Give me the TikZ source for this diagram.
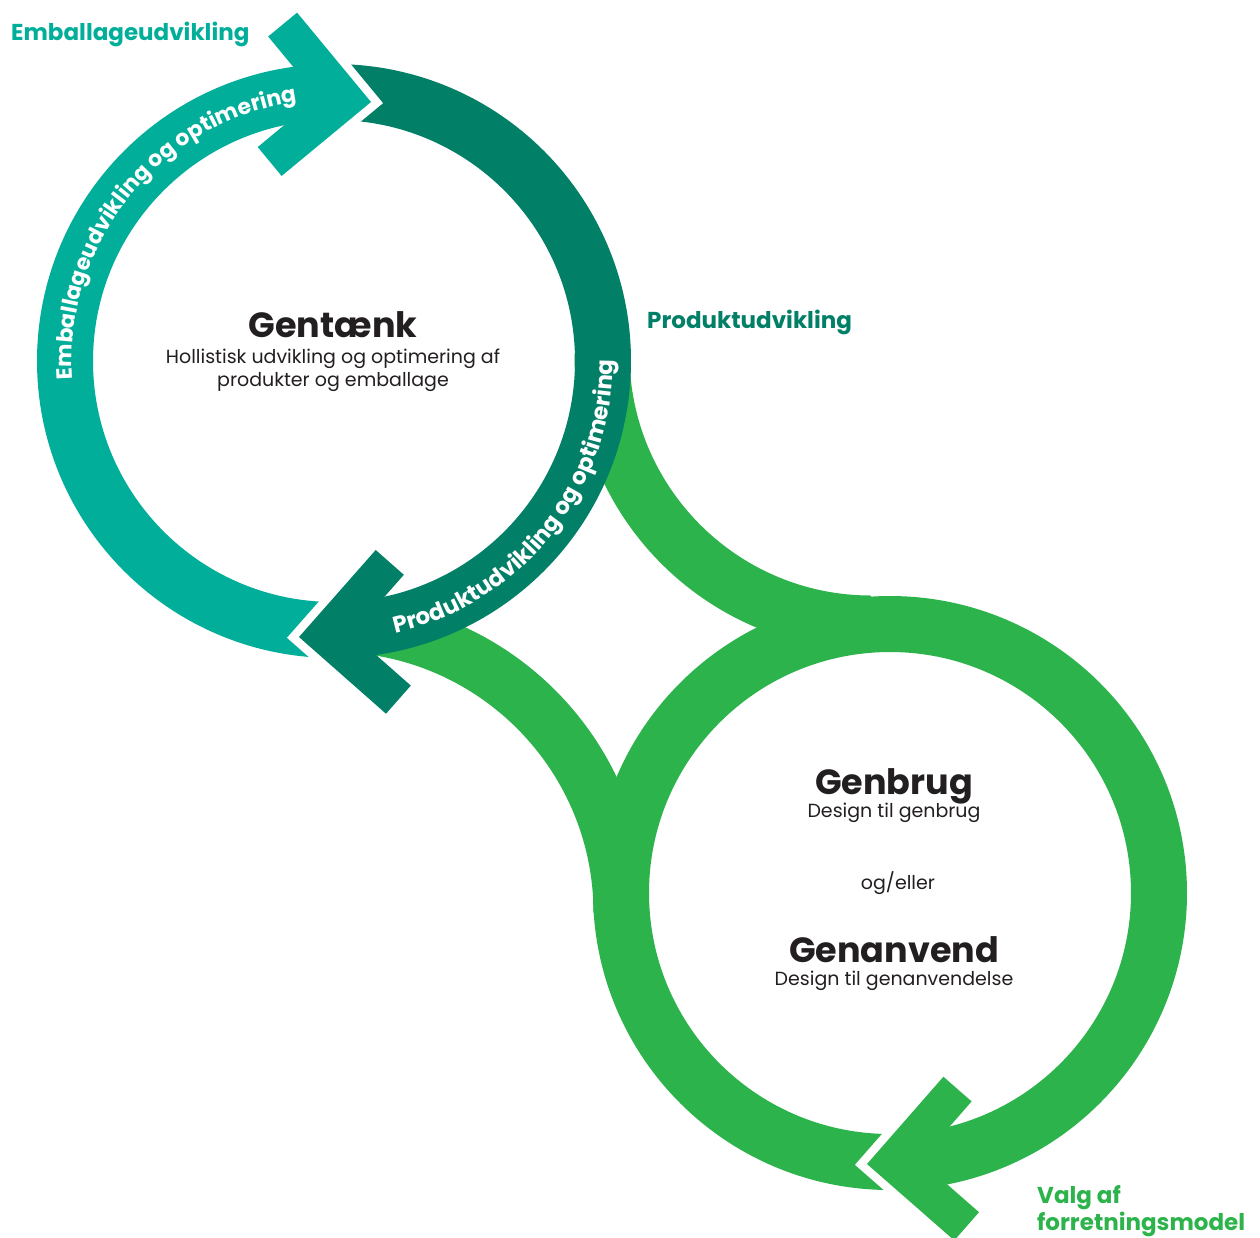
\documentclass[tikz,border=0pt]{standalone}
\usepackage{fontspec}
\setmainfont{Poppins}
\usetikzlibrary{decorations.text}
\definecolor{cTeal}{HTML}{00AE99}
\definecolor{cDark}{HTML}{027F67}
\definecolor{cGreen}{HTML}{2DB34B}
\definecolor{cInk}{HTML}{231F20}
\newcommand\ringfont{\bfseries\fontsize{22}{22}\selectfont}
\newcommand\ringfontb{\bfseries\fontsize{23}{23}\selectfont}
% chevron arrowhead: #1 tip, #2 direction (image angle), #3 colour
\newcommand\arrowchev[3]{%
  \draw[white, line width=17pt, line join=miter] (#1) ++(#2+135:116) -- (#1) -- ++(#2+225:116);
  \fill[#3] (#1) -- ++(#2+135:116) -- ++(#2+225:37.5) -- ++(#2-45:78.5) -- ++(#2+225:78.5) -- ++(#2+315:37.5) -- cycle;
}
\tikzset{
  lbl/.style={inner sep=0pt, font=\bfseries\fontsize{23}{23}\selectfont},
  ttl/.style={inner sep=0pt, font=\bfseries\fontsize{35}{35}\selectfont, text=cInk},
  bdy/.style={inner sep=0pt, font=\fontsize{19}{19}\selectfont, text=cInk},
  band/.style={line width=56pt},
}
\begin{document}
\begin{tikzpicture}[x=1pt,y=-1pt]
\fill[white] (0,0) rectangle (1260,1237);
\useasboundingbox (0,0) rectangle (1260,1237);
\coordinate (C1) at (334,361);
\coordinate (C2) at (890,893);
\coordinate (CA) at (871,354);
\coordinate (CB) at (332.5,913);
% connectors
\draw[cGreen, line width=55pt] (CA) ++(180:269) arc[start angle=180, end angle=90, radius=269];
\draw[cGreen, line width=54pt] (CB) ++(270:288) arc[start angle=270, end angle=360, radius=288];
% bottom circle
\draw[cGreen, band] (C2) ++(88.45:269) arc[start angle=88.45, end angle=445.35, radius=269];
% top circle
\draw[cTeal, band] (C1) ++(90.8:269) arc[start angle=90.8, end angle=268.6, radius=269];
\draw[cDark, band] (C1) ++(-88.3:269) arc[start angle=-88.3, end angle=87.7, radius=269];
% arrowheads
\arrowchev{371,102}{5.4}{cTeal}
\arrowchev{299,637}{176.4}{cDark}
\arrowchev{867,1164}{176.2}{cGreen}
% ring texts
\path[decorate, decoration={text along path, text align=center, text color=white,
  text={|\ringfont|Emballageudvikling og optimering}}]
  (C1) ++(165:262) arc[start angle=165, end angle=273, radius=262];
\path[decorate, decoration={text along path, text align=center, text color=white,
  text={|\ringfontb|Produktudvikling og optimering}}]
  (C1) ++(88.5:279) arc[start angle=88.5, end angle=-11.5, radius=279];
% labels
\node[lbl, text=cTeal, anchor=base west] (l1) at (11,40) {Emballageudvikling};
\node[lbl, text=cDark, anchor=base west] (l2) at (647,328) {Produktudvikling};
\node[lbl, text=cGreen, anchor=base west] (l3) at (1037,1203) {Valg af};
\node[lbl, text=cGreen, anchor=base west] (l4) at (1037,1230) {forretningsmodel};
% centre texts
\node[ttl, anchor=base] (g1) at (333,337) {Gentænk};
\node[bdy, anchor=base] (g2) at (333,363) {Hollistisk udvikling og optimering af};
\node[bdy, anchor=base] (g3) at (333,386) {produkter og emballage};
\node[ttl, anchor=base] (b1) at (894,794) {Genbrug};
\node[bdy, anchor=base] (b2) at (894,817) {Design til genbrug};
\node[bdy, anchor=base] (b3) at (898,889) {og/eller};
\node[ttl, anchor=base] (b4) at (894,962) {Genanvend};
\node[bdy, anchor=base] (b5) at (894,985) {Design til genanvendelse};
\end{tikzpicture}
\end{document}
